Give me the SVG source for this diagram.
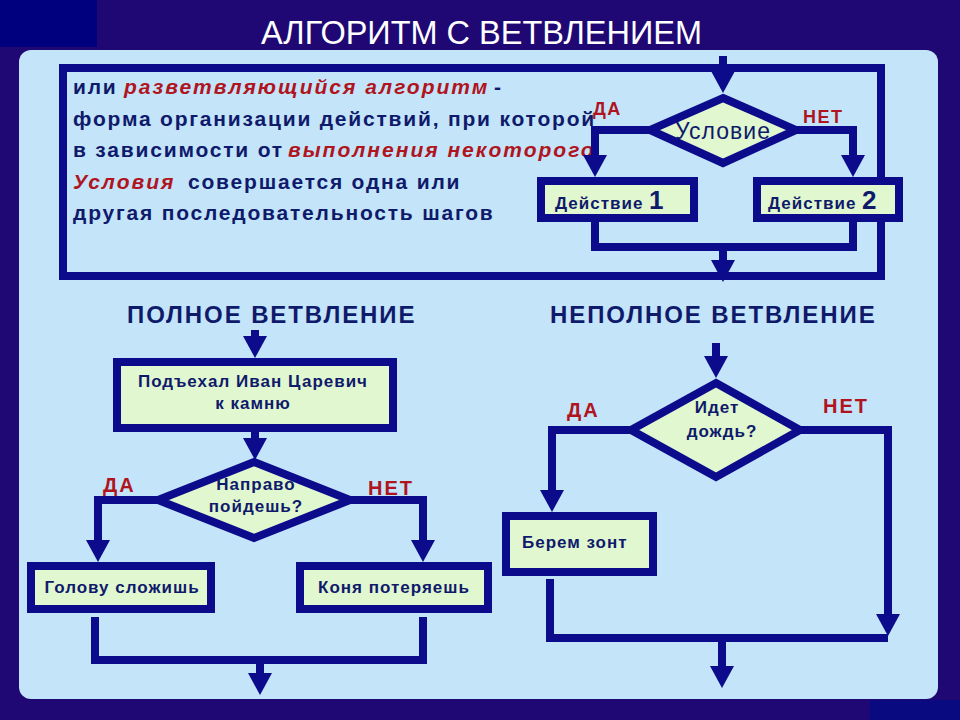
<svg xmlns="http://www.w3.org/2000/svg" width="960" height="720" viewBox="0 0 960 720">
<defs>
<style>
.ln{fill:none;stroke:#0b0b8c;stroke-width:8;stroke-linejoin:miter;stroke-linecap:butt}
.nd{fill:#e1f7cf;stroke:#0b0b8c;stroke-width:8;stroke-linejoin:miter}
.para{font-family:"Liberation Sans",Arial,sans-serif;font-weight:bold;font-size:21px;fill:#0f1a6b;letter-spacing:1.8px}
.red{fill:#b0141e;font-style:italic;letter-spacing:2px}
.redn{fill:#b0141e;font-style:italic;letter-spacing:2px}
.bx{font-family:"Liberation Sans",Arial,sans-serif;font-weight:bold;font-size:17px;fill:#0f1a6b;letter-spacing:1px}
.hd{font-family:"Liberation Sans",Arial,sans-serif;font-weight:bold;font-size:24px;fill:#0f1a6b;letter-spacing:1.9px}
.yn{font-family:"Liberation Sans",Arial,sans-serif;font-weight:bold;font-size:20px;fill:#b0141e;letter-spacing:2px}
.yns{font-family:"Liberation Sans",Arial,sans-serif;font-weight:bold;font-size:18px;fill:#b0141e;letter-spacing:1.5px}
</style>
<marker id="ah" markerUnits="userSpaceOnUse" viewBox="0 0 22 24" markerWidth="22" markerHeight="24" refX="0" refY="12" orient="auto">
<path d="M0,0 L22,12 L0,24 Z" fill="#0b0b8c"/>
</marker>
</defs>
<rect x="0" y="0" width="960" height="720" fill="#1f0873"/>
<rect x="0" y="0" width="97" height="47" fill="#00007f"/>
<rect x="870" y="700" width="90" height="20" fill="#0a0a80"/>
<text x="261" y="44" font-family="'Liberation Sans Narrow','Liberation Sans',Arial,sans-serif" font-size="33" fill="#ffffff" textLength="441" lengthAdjust="spacingAndGlyphs">АЛГОРИТМ С ВЕТВЛЕНИЕМ</text>
<rect x="19" y="50" width="919" height="649" rx="12" fill="#c3e4f9"/>

<g id="definition">
<rect x="63" y="68" width="818" height="208" fill="none" stroke="#0b0b8c" stroke-width="8"/>
<text class="para" x="73" y="94">или <tspan class="red" x="124">разветвляющийся алгоритм</tspan><tspan x="494">-</tspan></text>
<text class="para" x="73" y="126">форма организации действий, при которой</text>
<text class="para" x="73" y="157">в зависимости от <tspan class="red" x="288">выполнения некоторого</tspan></text>
<text class="para" x="73" y="189"><tspan class="redn">Условия</tspan><tspan x="188">совершается одна или</tspan></text>
<text class="para" x="73" y="220">другая последовательность шагов</text>
</g>

<g id="connectors">
<path class="ln" d="M723,56 V71" marker-end="url(#ah)"/>
<path class="ln" d="M650,130 H595 V155" marker-end="url(#ah)"/>
<path class="ln" d="M796,130 H853 V155" marker-end="url(#ah)"/>
<path class="ln" d="M595,222 V247 H853 V222"/>
<path class="ln" d="M723,247 V260" marker-end="url(#ah)"/>
<path class="ln" d="M255,330 V336" marker-end="url(#ah)"/>
<path class="ln" d="M255,432 V438" marker-end="url(#ah)"/>
<path class="ln" d="M158,500 H98 V540" marker-end="url(#ah)"/>
<path class="ln" d="M350,500 H423 V540" marker-end="url(#ah)"/>
<path class="ln" d="M95,617 V660 H423 V617"/>
<path class="ln" d="M260,660 V673" marker-end="url(#ah)"/>
<path class="ln" d="M716,343 V356" marker-end="url(#ah)"/>
<path class="ln" d="M631,430 H552 V490" marker-end="url(#ah)"/>
<path class="ln" d="M800,430 H888 V614" marker-end="url(#ah)"/>
<path class="ln" d="M550,579 V638 H888"/>
<path class="ln" d="M722,638 V666" marker-end="url(#ah)"/>
</g>

<g id="labels">
<text class="yns" x="593" y="115">ДА</text>
<text class="yns" x="803" y="123">НЕТ</text>
<text class="yn" x="103" y="492">ДА</text>
<text class="yn" x="368" y="495">НЕТ</text>
<text class="yn" x="567" y="417">ДА</text>
<text class="yn" x="823" y="413">НЕТ</text>
<text class="hd" x="127" y="323">ПОЛНОЕ ВЕТВЛЕНИЕ</text>
<text class="hd" x="550" y="323">НЕПОЛНОЕ ВЕТВЛЕНИЕ</text>
</g>

<g id="cond-top">
<polygon class="nd" points="723,98 796,130 723,163 650,130"/>
<text x="723" y="139" text-anchor="middle" font-family="'Liberation Sans',Arial,sans-serif" font-size="23" letter-spacing="1" fill="#0f1a6b">Условие</text>
</g>
<g id="action-1">
<rect class="nd" x="541" y="181" width="153" height="37"/>
<text class="bx" x="555" y="209" font-size="19" letter-spacing="1.2">Действие <tspan font-size="26">1</tspan></text>
</g>
<g id="action-2">
<rect class="nd" x="757" y="181" width="142" height="37"/>
<text class="bx" x="768" y="209" font-size="19" letter-spacing="1.2">Действие <tspan font-size="26">2</tspan></text>
</g>

<g id="ivan">
<rect class="nd" x="117" y="362" width="276" height="66"/>
<text class="bx" x="253" y="387" text-anchor="middle" font-size="16" letter-spacing="1.6">Подъехал Иван Царевич</text>
<text class="bx" x="253" y="409" text-anchor="middle" font-size="16" letter-spacing="1.6">к камню</text>
</g>
<g id="cond-right">
<polygon class="nd" points="254,462 350,500 254,538 158,500"/>
<text class="bx" x="256" y="490" text-anchor="middle">Направо</text>
<text class="bx" x="256" y="512" text-anchor="middle">пойдешь?</text>
</g>
<g id="head">
<rect class="nd" x="31" y="566" width="180" height="43"/>
<text class="bx" x="122" y="593" text-anchor="middle">Голову сложишь</text>
</g>
<g id="horse">
<rect class="nd" x="300" y="566" width="188" height="43"/>
<text class="bx" x="394" y="593" text-anchor="middle">Коня потеряешь</text>
</g>

<g id="cond-rain">
<polygon class="nd" points="716,383 800,430 716,477 631,430"/>
<text class="bx" x="717" y="413" text-anchor="middle" font-size="15" letter-spacing="0.5">Идет</text>
<text class="bx" x="722" y="437" text-anchor="middle" font-size="15" letter-spacing="0.5">дождь?</text>
</g>
<g id="umbrella">
<rect class="nd" x="506" y="516" width="147" height="56"/>
<text class="bx" x="522" y="548">Берем зонт</text>
</g>
</svg>
